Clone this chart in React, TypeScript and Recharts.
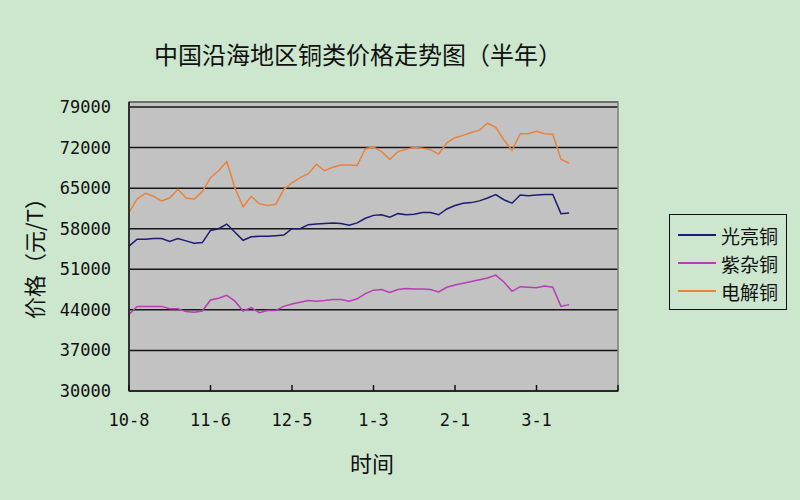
import { LineChart, Line, XAxis, YAxis, CartesianGrid, ReferenceArea } from "recharts";

// trading-day index along the half year (0 = 10-8, 120 = end of axis)
const days = [
  0, 2, 4, 6, 8, 10, 12, 14, 16, 18, 20, 22, 24, 26, 28, 30, 32, 34, 36, 38,
  40, 42, 44, 46, 48, 50, 52, 54, 56, 58, 60, 62, 64, 66, 68, 70, 72, 74, 76, 78,
  80, 82, 84, 86, 88, 90, 92, 94, 96, 98, 100, 102, 104, 106, 108,
];

// 光亮铜
const brightCopper = [
  55000, 56200, 56200, 56300, 56300, 55800, 56300, 55900, 55500, 55600,
  57700, 58000, 58800, 57400, 56000, 56600, 56700, 56700, 56800, 56900,
  58000, 58000, 58700, 58800, 58900, 59000, 58900, 58600, 59000, 59800,
  60300, 60400, 60000, 60600, 60400, 60500, 60800, 60800, 60400, 61400,
  62000, 62400, 62500, 62800, 63300, 63900, 63000, 62400, 63800, 63700,
  63800, 63900, 63900, 60600, 60700,
];

// 紫杂铜
const mixedCopper = [
  43200, 44600, 44600, 44600, 44600, 44200, 44200, 43700, 43600, 43800,
  45700, 46000, 46500, 45500, 43800, 44400, 43500, 43900, 43900, 44600,
  45000, 45300, 45600, 45500, 45600, 45800, 45800, 45500, 45900, 46800,
  47400, 47500, 47000, 47500, 47700, 47600, 47600, 47500, 47100, 47900,
  48300, 48600, 48900, 49200, 49500, 50000, 48800, 47200, 48000, 47900,
  47800, 48100, 47900, 44600, 44900,
];

// 电解铜
const electrolyticCopper = [
  60800, 63100, 64100, 63600, 62800, 63300, 64800, 63300, 63100, 64400,
  66800, 68000, 69600, 65000, 61800, 63600, 62300, 62000, 62200, 64800,
  65900, 66800, 67500, 69100, 68000, 68600, 69000, 69000, 68900, 71800,
  72100, 71300, 69950, 71300, 71700, 72000, 71900, 71600, 70900, 72800,
  73700, 74100, 74600, 75000, 76200, 75500, 73300, 71500, 74400, 74400,
  74800, 74400, 74300, 70000, 69300,
];

const xTickDays = [0, 20, 40, 60, 80, 100, 120];
const xTickLabels = ["10-8", "11-6", "12-5", "1-3", "2-1", "3-1", ""];
const yTicks = [30000, 37000, 44000, 51000, 58000, 65000, 72000, 79000];

const seriesNames = ["光亮铜", "紫杂铜", "电解铜"];
const seriesColors = ["#1c1c72", "#b83cb8", "#e8843e"];

const data = days.map((d, i) => ({
  day: d,
  bright: brightCopper[i],
  mixed: mixedCopper[i],
  electro: electrolyticCopper[i],
}));

const cjk = '"Noto Sans CJK SC", sans-serif';
const digits = '"DejaVu Sans Mono", monospace';

const XTick = ({ x, y, payload }: any) => {
  const i = xTickDays.indexOf(payload.value);
  return (
    <g>
      <line x1={x} x2={x} y1={y - 6} y2={y} stroke="#111" strokeWidth={1.5} />
      <text
        x={x}
        y={y + 29}
        textAnchor="middle"
        dominantBaseline="central"
        fontFamily={digits}
        fontSize={17}
        fill="#111"
      >
        {xTickLabels[i]}
      </text>
    </g>
  );
};

// legend drawn as a box to the right of the plot
const LegendBox = () => (
  <div
    style={{
      position: "absolute",
      left: 669,
      top: 214,
      border: "1.5px solid #111",
      width: 118,
      height: 96,
      boxSizing: "border-box",
      padding: "6px 0 0 8px",
      fontFamily: cjk,
      fontSize: 19,
      color: "#111",
    }}
  >
    {seriesNames.map((name, i) => (
      <div key={name} style={{ display: "flex", alignItems: "center", height: 28 }}>
        <div style={{ width: 38, height: 2, background: seriesColors[i], marginRight: 5 }} />
        <span>{name}</span>
      </div>
    ))}
  </div>
);

export default function App() {
  return (
    <div
      style={{
        position: "absolute",
        left: 0,
        top: 0,
        width: 800,
        height: 500,
        background: "#cde7cf",
        overflow: "hidden",
      }}
    >
      <div
        style={{
          position: "absolute",
          left: 0,
          width: 716,
          top: 36,
          textAlign: "center",
          fontFamily: cjk,
          fontSize: 24,
          color: "#111",
        }}
      >
        中国沿海地区铜类价格走势图（半年）
      </div>
      <div
        style={{
          position: "absolute",
          left: 33,
          top: 253,
          transform: "translate(-50%, -50%) rotate(-90deg)",
          whiteSpace: "nowrap",
          fontFamily: cjk,
          fontSize: 22,
          color: "#111",
        }}
      >
        价格（元/T）
      </div>
      <div
        style={{
          position: "absolute",
          left: 372,
          top: 462,
          transform: "translate(-50%, -50%)",
          fontFamily: cjk,
          fontSize: 22,
          color: "#111",
        }}
      >
        时间
      </div>

      <LineChart
        width={800}
        height={500}
        data={data}
        margin={{ top: 102, right: 182, left: 0, bottom: 79 }}
      >
        <CartesianGrid
          vertical={false}
          stroke="#161616"
          strokeWidth={1.5}
          fill="#c2c2c2"
          fillOpacity={1}
        />
        <ReferenceArea
          x1={0}
          x2={120}
          y1={30000}
          y2={79860}
          fill="none"
          stroke="#7c7c7c"
          strokeWidth={1.5}
        />
        <XAxis
          dataKey="day"
          type="number"
          domain={[0, 120]}
          ticks={xTickDays}
          interval={0}
          height={30}
          tickSize={0}
          tickMargin={0}
          tickLine={false}
          axisLine={{ stroke: "#111", strokeWidth: 1.5 }}
          tick={<XTick />}
        />
        <YAxis
          type="number"
          domain={[30000, 79860]}
          ticks={yTicks}
          interval={0}
          width={129}
          tickSize={0}
          tickMargin={18}
          tickLine={false}
          axisLine={{ stroke: "#111", strokeWidth: 1.5 }}
          tick={{ fill: "#111", fontSize: 17, fontFamily: digits }}
        />
        <Line
          dataKey="bright"
          name={seriesNames[0]}
          stroke={seriesColors[0]}
          strokeWidth={1.5}
          dot={false}
          isAnimationActive={false}
        />
        <Line
          dataKey="mixed"
          name={seriesNames[1]}
          stroke={seriesColors[1]}
          strokeWidth={1.5}
          dot={false}
          isAnimationActive={false}
        />
        <Line
          dataKey="electro"
          name={seriesNames[2]}
          stroke={seriesColors[2]}
          strokeWidth={1.5}
          dot={false}
          isAnimationActive={false}
        />
      </LineChart>
      <LegendBox />
    </div>
  );
}
